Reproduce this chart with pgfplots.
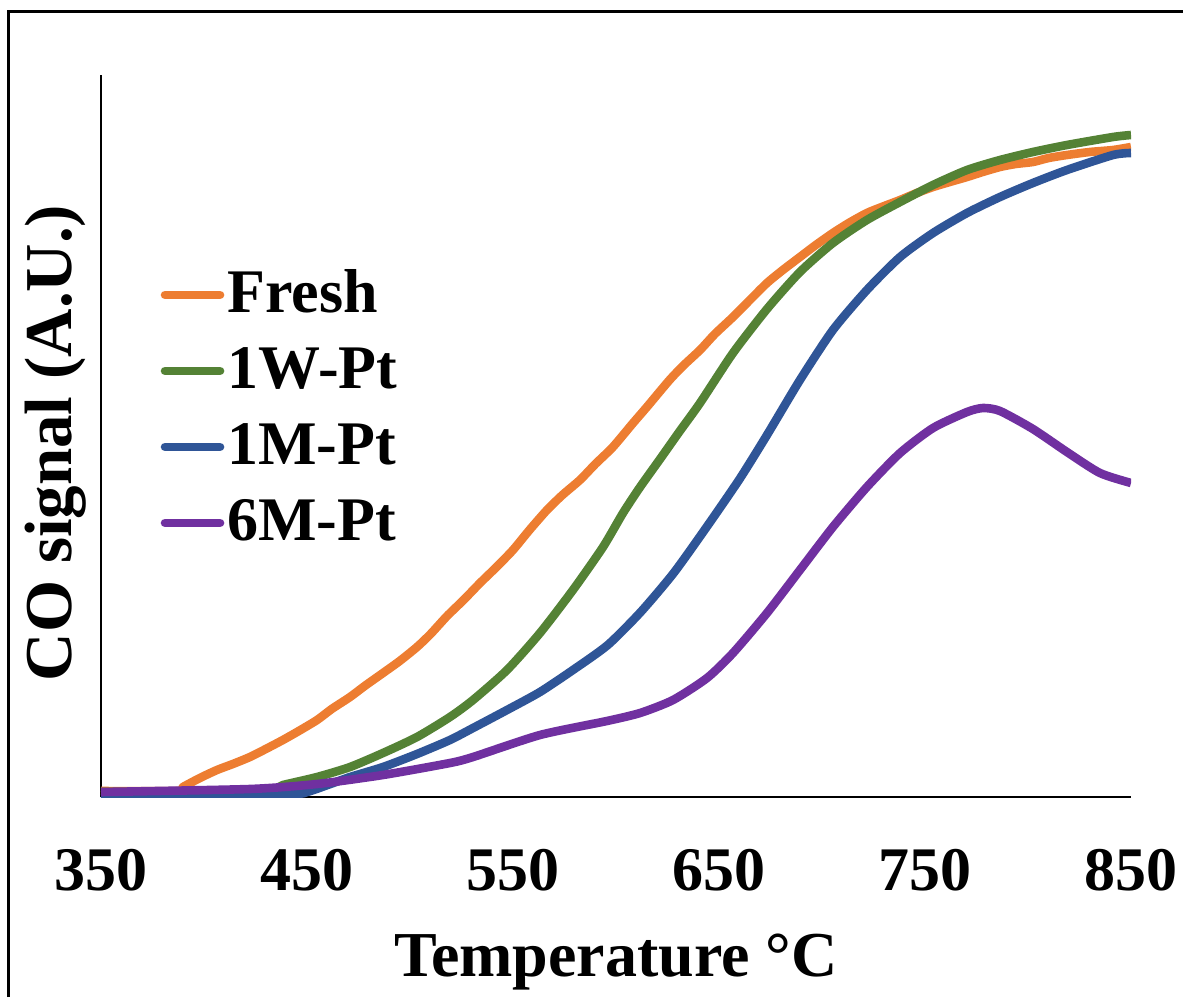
\documentclass[border=0pt]{standalone}
\usepackage{fontspec}
\setmainfont{Liberation Serif}
\usepackage{pgfplots}
\pgfplotsset{compat=1.18}
\usetikzlibrary{calc}
\definecolor{cfresh}{RGB}{237,125,49}
\definecolor{cwone}{RGB}{84,130,53}
\definecolor{cmone}{RGB}{47,85,151}
\definecolor{csix}{RGB}{112,48,160}
\begin{document}
\begin{tikzpicture}
\useasboundingbox (0,0) rectangle (591.5pt,498.5pt);
\draw[line width=1.5pt] (4pt,0pt) -- (4pt,492.5pt) -- (591.5pt,492.5pt);
\begin{axis}[
  at={(50.5pt,100pt)}, anchor=south west,
  scale only axis, width=515pt, height=361pt,
  xmin=350, xmax=850, ymin=0, ymax=722,
  axis x line*=bottom, axis y line*=left,
  axis line style={line width=1.2pt, -},
  xtick={350,450,550,650,750,850},
  xticklabels={350,450,550,650,750,850},
  ytick=\empty,
  major tick length=0pt,
  /pgf/number format/assume math mode=true,
  xticklabel style={anchor=base, yshift=-46.5pt, font=\bfseries\fontsize{31}{31}\selectfont},
  xlabel={Temperature °C},
  xlabel style={at={(axis description cs:0.5,0)}, anchor=base, yshift=-89.5pt, font=\bfseries\fontsize{32}{32}\selectfont},
  ylabel={CO signal (A.U.)},
  ylabel style={at={($(axis description cs:0,0.5)+(-14.5pt,-3.5pt)$)}, anchor=base, font=\bfseries\fontsize{33.5}{33.5}\selectfont},
  legend cell align=left,
  legend style={at={(rel axis cs:0.058,0.748)}, anchor=north west, draw=none, fill=none,
    inner sep=0pt, outer sep=0pt, row sep=0pt, column sep=1.5pt,
    font=\bfseries\fontsize{31}{31}\selectfont,
    nodes={inner sep=0pt, text height=28pt, text depth=10pt}},
  legend image code/.code={\draw[line width=4.3pt, line cap=round] (2pt,0pt) -- (29.5pt,0pt);},
  line join=round,
  every axis plot/.append style={line width=4.3pt, smooth, tension=0.4},
]
\addplot[cfresh] coordinates {
(350,6) (387,6) (389.8,10) (398,19) (406.3,27) (414,33) (422.3,40) (430,48) (438.3,57) (446,66) (454.9,77)
(462,88) (470.9,100) (478,111) (486.9,124) (495,136) (503.4,150) (510,163) (518,181) (526,197) (534,214)
(542,230) (550,247) (558,267) (566.5,287) (574,302) (582.5,317) (590,333) (598.5,350) (608.3,374)
(615,390) (626,417) (633,432) (640.8,447) (648,463) (656.8,480) (665,497) (673.3,514) (681,527)
(689.3,540) (697,552) (705.3,564) (713,574) (721.8,584) (729,590) (737.9,597) (746,604)
(753.9,610) (762,615) (770.4,620) (778,625) (786.4,630) (794,633) (802.4,635) (810,639) (818.9,642)
(830,645) (841.3,647) (850,650)};
\addlegendentry{Fresh}
\addplot[cwone] coordinates {
(350,5) (427,6) (438.3,12) (454.9,20) (470.9,30) (486.9,44) (503.4,60) (519.4,80) (530.6,97)
(547.1,127) (563.1,164) (579.1,207) (593.7,250) (603.4,284) (611.7,310) (621.4,338) (631,366)
(640.8,394) (656.8,444) (673.3,488) (689.3,525)
(705.3,554) (721.8,577) (737.9,595) (753.9,612) (770.4,627) (786.4,637) (802.4,645) (818.9,652)
(841.3,660) (850,662)};
\addlegendentry{1W-Pt}
\addplot[cmone] coordinates {
(350,3) (440,3) (450,5) (460,12) (470.9,20) (486.9,30) (503.4,43) (519.4,57) (530.6,69) (547.1,87)
(563.1,105) (579.1,127) (596,152) (612,185) (628,224) (644,270) (660,318) (673.3,362)
(689.3,417) (705.3,467) (721.8,507) (737.9,540) (753.9,564) (770.4,584) (786.4,600) (802.4,614)
(818.9,627) (841.3,642) (850,644)};
\addlegendentry{1M-Pt}
\addplot[csix] coordinates {
(350,5) (422.3,8) (454.9,13) (486.9,22) (519.4,34) (530.6,40) (563.1,62) (595.6,76) (611.7,84)
(627.7,97) (644.2,119) (656.8,144) (673.3,184) (689.3,227) (705.3,270) (721.8,310) (737.9,344)
(753.9,369) (770.4,385) (778.2,389) (786.4,386) (802.4,368) (818.9,345) (834.9,324) (850,314)};
\addlegendentry{6M-Pt}
\end{axis}
\end{tikzpicture}
\end{document}
